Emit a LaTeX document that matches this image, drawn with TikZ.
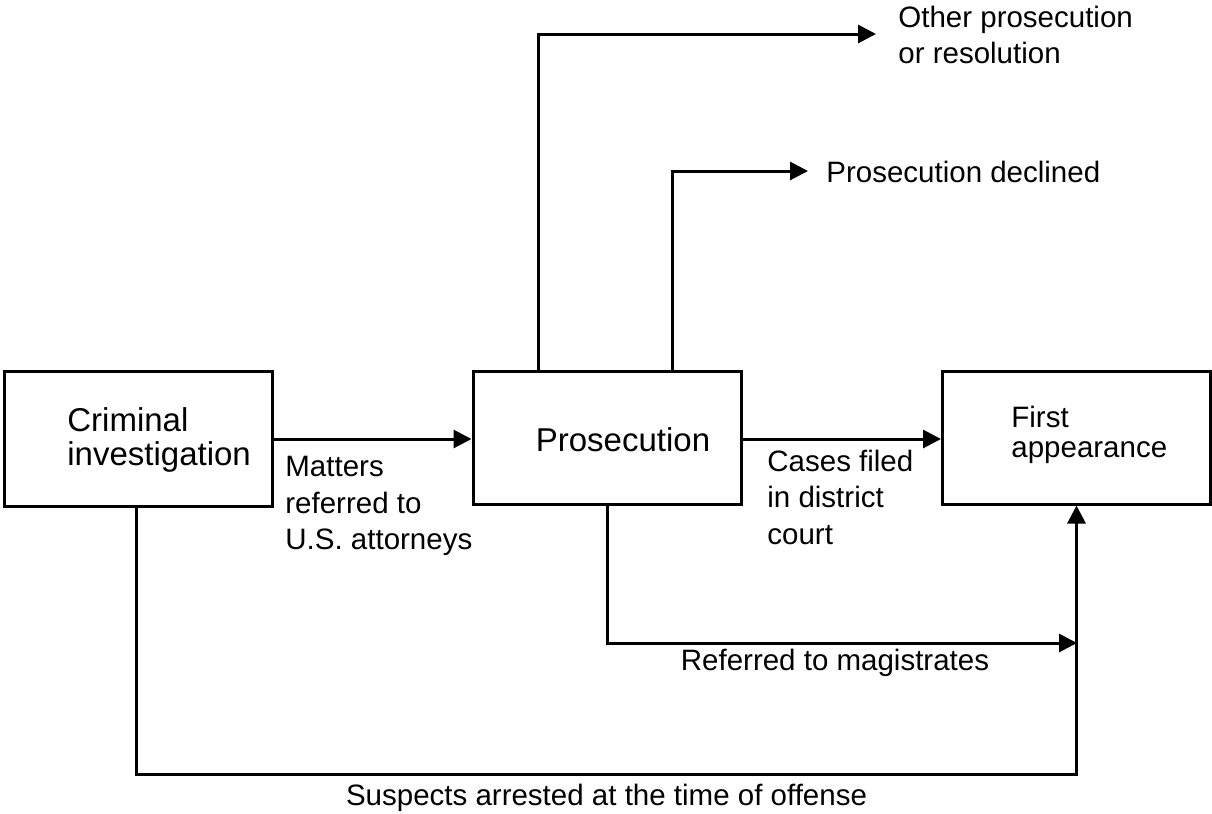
\documentclass[tikz,border=0pt]{standalone}
\usepackage{fontspec}
\setmainfont{Liberation Sans}
\usetikzlibrary{arrows.meta}
\newcommand{\boxfont}{\fontsize{16.5}{17}\selectfont}
\newcommand{\smallboxfont}{\fontsize{14.75}{15}\selectfont}
\newcommand{\lblfont}{\fontsize{14.75}{18.25}\selectfont}

\begin{document}
\begin{tikzpicture}[x=0.5pt, y=-0.5pt,
  every node/.style = {inner sep=0pt, align=left},
  stage/.style = {draw, line width=1.5pt, minimum width=134pt, minimum height=66.5pt},
  flow/.style = {line width=1.5pt, -{Triangle[length=9pt,width=9pt]}},
  lbl/.style = {font=\lblfont}]
  \useasboundingbox (0,0) rectangle (1212,814);
  % stages
  \node[stage, minimum height=67.5pt] (crim) at (138,438.5) {};
  \node[stage] (pros) at (607,437.5) {};
  \node[stage] (first) at (1076.5,437.5) {};
  \node[anchor=west, font=\boxfont] (crimtxt) at (67,440) {Criminal\\investigation};
  \node[font=\boxfont] (prostxt) at (623,440) {Prosecution};
  \node[anchor=west, font=\smallboxfont] (firsttxt) at (1011,435) {First\\appearance};
  % outcomes of prosecution
  \node[lbl, anchor=west] (other) at (898,35) {Other prosecution\\or resolution};
  \node[lbl, anchor=west] (decl) at (826,172) {Prosecution declined};
  \coordinate (magi) at (1077,643);
  \coordinate (arrest) at (0,774);
  % flows
  \draw[flow] (crim.east |- 0,439) -- (pros.west |- 0,439);
  \draw[flow] (pros.east |- 0,439) -- (first.west |- 0,439);
  \draw[flow] ([xshift=-34.5pt]pros.north) |- ([xshift=-11pt,yshift=0.5pt]other.west);
  \draw[flow] ([xshift=32.5pt]pros.north) |- ([xshift=-9pt,yshift=0.5pt]decl.west);
  \draw[flow] (pros.south) |- (magi);
  \draw[flow] ([xshift=-1pt]crim.south) |- (first.south |- arrest) -- (first.south);
  % labels
  \node[lbl, anchor=west] (matters) at (285,506) {Matters\\referred to\\U.S. attorneys};
  \node[lbl, anchor=west] (cases) at (767,497) {Cases filed\\in district\\court};
  \node[lbl] (magitxt) at (835,663) {Referred to magistrates};
  \node[lbl] (arresttxt) at (606.5,798) {Suspects arrested at the time of offense};
\end{tikzpicture}
\end{document}
